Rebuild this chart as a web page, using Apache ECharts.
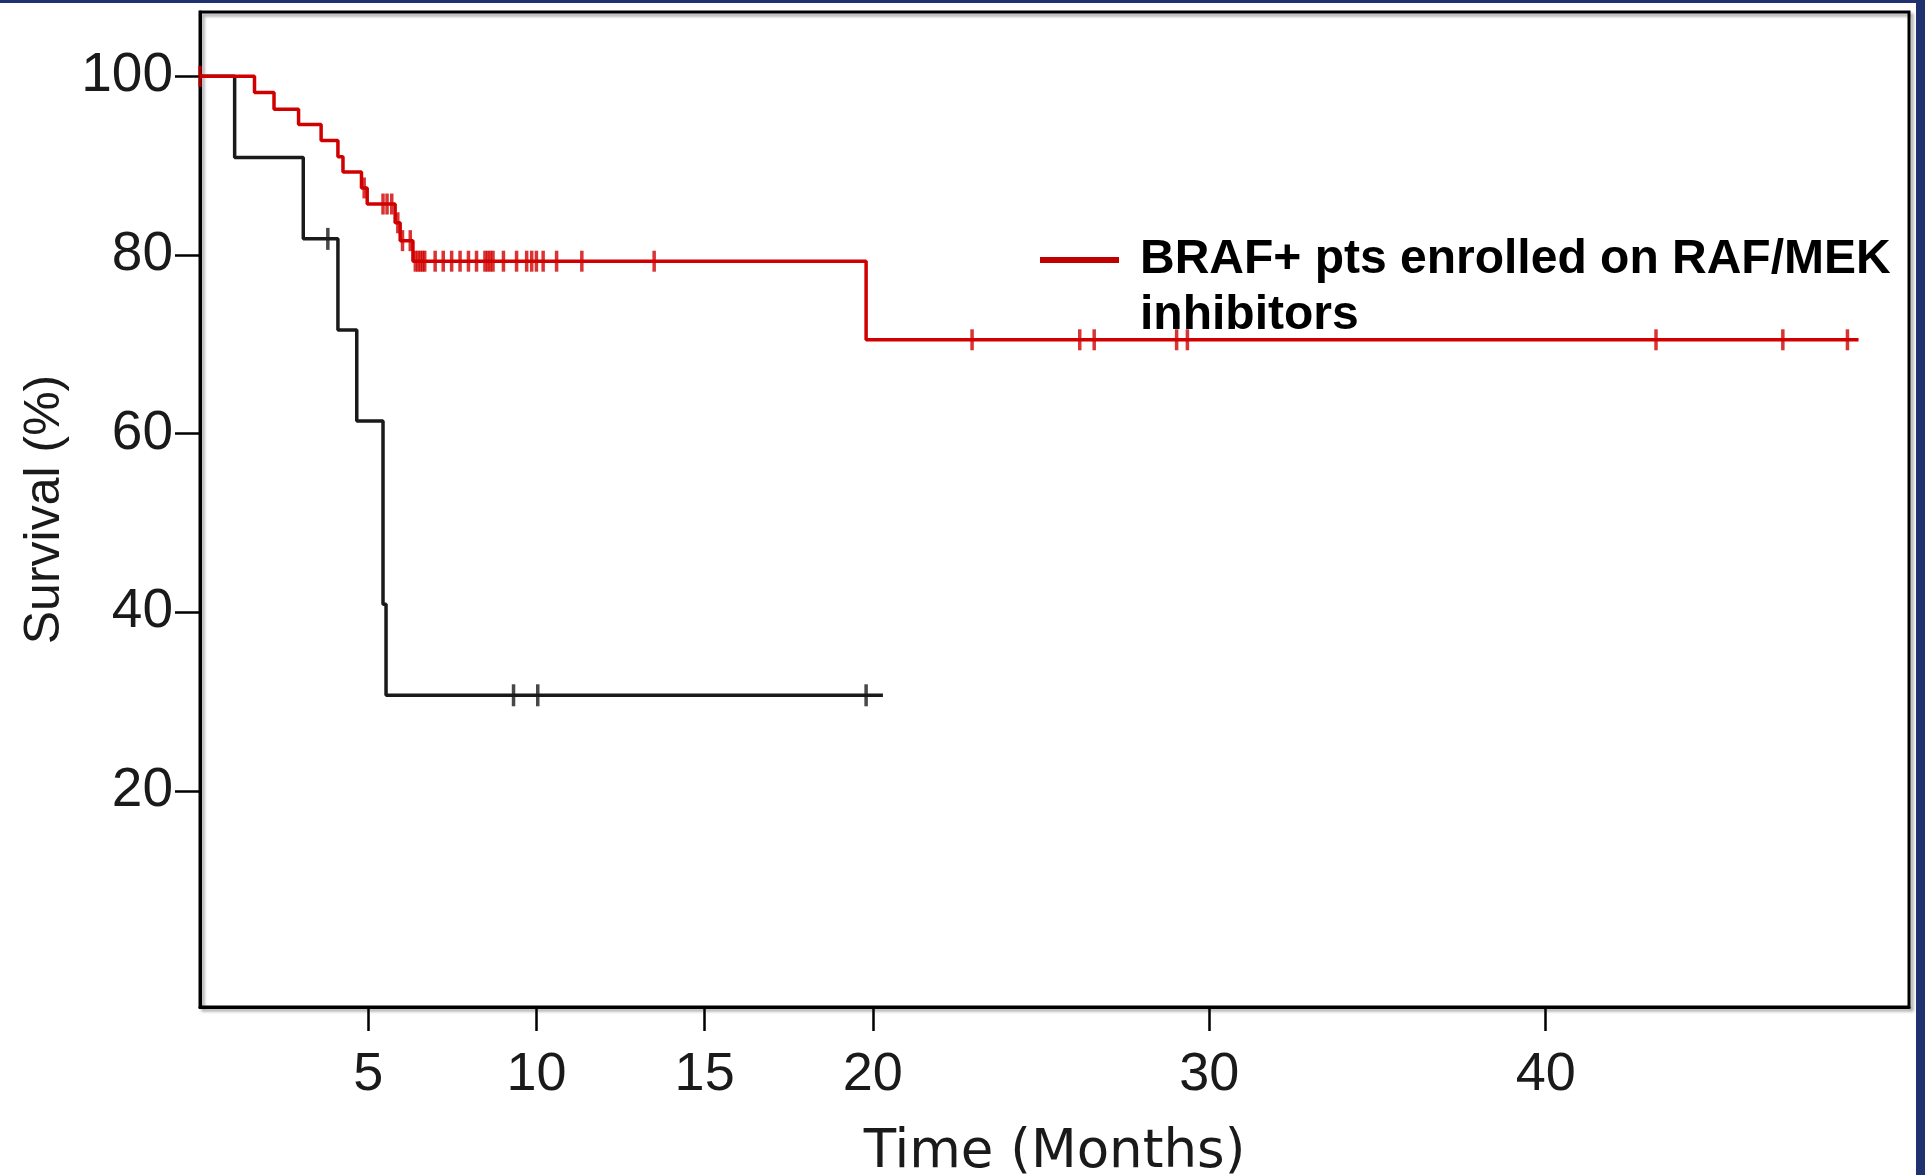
<!DOCTYPE html>
<html>
<head>
<meta charset="utf-8">
<title>Survival</title>
<script src="https://cdn.jsdelivr.net/npm/echarts@6/dist/echarts.min.js"></script>
<style>
  html, body { margin: 0; padding: 0; background: #fff; }
  #chart { width: 1925px; height: 1175px; }
</style>
</head>
<body>
<div id="chart"></div>
<script>
// step points of each curve (months, survival %)
var ctrlTimes = [0, 1.03, 3.07, 4.1, 4.66, 5.44, 5.53, 20.3];
var ctrlSurv = [100, 90.9, 81.8, 71.6, 61.4, 40.9, 30.7, 30.7];
var ctrlCensor = [3.8, 9.32, 10.04, 19.8];

var brafTimes = [0, 1.62, 2.2, 2.93, 3.6, 4.1, 4.25, 4.8, 4.97, 5.8, 5.95, 6.33, 19.8, 49.3];
var brafSurv = [100, 98.2, 96.3, 94.6, 92.8, 91.0, 89.3, 87.5, 85.7, 83.6, 81.6, 79.3, 70.5, 70.5];
var brafCensor = [0, 4.88, 5.44, 5.56, 5.7, 5.88, 6.02, 6.25, 6.4, 6.48, 6.55, 6.62, 6.68,
  6.99, 7.23, 7.48, 7.73, 7.98, 8.22, 8.47, 8.55, 8.63, 8.71, 9.02, 9.41, 9.71, 9.86,
  10.0, 10.2, 10.6, 11.35, 13.5, 22.95, 26.15, 26.58, 29.03, 29.35, 43.28, 47.05, 48.97];

var xTicks = [5, 10, 15, 20, 30, 40];
var yTicks = [20, 40, 60, 80, 100];
var brafName = "BRAF+ pts enrolled on RAF/MEK\ninhibitors";

// level of the curve at time t
function levelAt(times, surv, t) {
  var v = surv[0];
  for (var i = 0; i < times.length; i++) {
    if (times[i] <= t) v = surv[i];
  }
  return v;
}
function pairs(times, surv) {
  return times.map(function (t, i) { return [t, surv[i]]; });
}
function censorPts(censor, times, surv) {
  return censor.map(function (t) { return [t, levelAt(times, surv, t)]; });
}

var red = "#d10000";
var dark = "#1a1a1a";

var myChart = echarts.init(document.getElementById("chart"));
var option = {
  backgroundColor: "#fff",
  animation: false,
  grid: {
    left: 200, right: 16, top: 12, bottom: 168,
    outerBoundsMode: "none",
    show: true,
    borderColor: "#000",
    borderWidth: 3,
    shadowColor: "rgba(0,0,0,0.35)",
    shadowBlur: 3,
    shadowOffsetX: 3,
    shadowOffsetY: 3
  },
  legend: {
    data: [brafName],
    left: 1040,
    top: 176,
    padding: 0,
    itemWidth: 79,
    itemHeight: 6,
    icon: "rect",
    itemStyle: { color: "#c00000" },
    // empty first line keeps the icon level with the first text line
    formatter: function (name) { return "\n" + name; },
    textStyle: {
      fontFamily: "Liberation Sans",
      fontWeight: "bold",
      fontSize: 48,
      lineHeight: 56,
      color: "#000",
      padding: [0, 0, 0, 16]
    }
  },
  xAxis: {
    type: "value",
    min: 0,
    max: 50.8,
    name: "Time (Months)",
    nameLocation: "middle",
    nameGap: 120,
    nameTextStyle: { fontFamily: "DejaVu Sans", fontSize: 53, color: dark },
    splitLine: { show: false },
    axisLine: { show: true, onZero: false, lineStyle: { color: "#000", width: 3 } },
    axisTick: {
      show: true, length: 24, customValues: xTicks,
      lineStyle: { color: "#000", width: 2.5 }
    },
    axisLabel: {
      customValues: xTicks, margin: 41,
      fontFamily: "Liberation Sans", fontSize: 54, color: dark
    }
  },
  yAxis: {
    type: "value",
    min: -4.2,
    max: 107.2,
    name: "Survival (%)",
    nameLocation: "middle",
    nameGap: 128,
    nameTextStyle: { fontFamily: "Liberation Sans", fontSize: 50, color: dark },
    splitLine: { show: false },
    axisLine: { show: true, onZero: false, lineStyle: { color: "#000", width: 3 } },
    axisTick: {
      show: true, length: 25, customValues: yTicks,
      lineStyle: { color: "#000", width: 2.5 }
    },
    axisLabel: {
      customValues: yTicks, margin: 27,
      fontFamily: "Liberation Sans", fontSize: 55, color: dark
    }
  },
  series: [
    {
      name: "control",
      type: "line",
      step: "end",
      showSymbol: false,
      data: pairs(ctrlTimes, ctrlSurv),
      lineStyle: { color: dark, width: 3.5 },
      itemStyle: { color: dark },
      z: 2
    },
    {
      name: "control censored",
      type: "scatter",
      symbol: "rect",
      symbolSize: [3.5, 22],
      data: censorPts(ctrlCensor, ctrlTimes, ctrlSurv),
      itemStyle: { color: dark },
      z: 2
    },
    {
      name: brafName,
      type: "line",
      step: "end",
      showSymbol: false,
      data: pairs(brafTimes, brafSurv),
      lineStyle: { color: red, width: 3.5 },
      itemStyle: { color: "#c00000" },
      z: 3
    },
    {
      name: "braf censored",
      type: "scatter",
      symbol: "rect",
      symbolSize: [3.5, 21],
      data: censorPts(brafCensor, brafTimes, brafSurv),
      itemStyle: { color: red },
      z: 3
    }
  ],
  graphic: [
    { type: "rect", left: 0, top: 0, shape: { width: 1925, height: 3 }, style: { fill: "#1f326f" } },
    { type: "rect", left: 1916, top: 0, shape: { width: 9, height: 1175 }, style: { fill: "#1f326f" } }
  ]
};
myChart.setOption(option);
window.addEventListener("resize", function () {
  myChart.resize();
});
</script>
</body>
</html>
